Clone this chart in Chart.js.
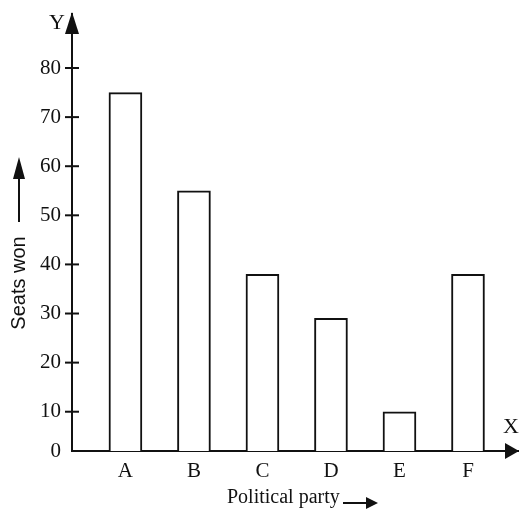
<!DOCTYPE html>
<html>
<head>
<meta charset="utf-8">
<script src="https://cdn.jsdelivr.net/npm/chart.js@4/dist/chart.umd.min.js"></script>
<style>
  html, body { margin: 0; padding: 0; background: #fff; }
  #wrap { width: 519px; height: 516px; }
</style>
</head>
<body>
<div id="wrap"><canvas id="seats"></canvas></div>
<script>
const parties = ['A', 'B', 'C', 'D', 'E', 'F'];
const seatsWon = [75, 55, 38, 29, 10, 38];
const yTicks = [10, 20, 30, 40, 50, 60, 70, 80];

// the printed axis is squeezed below 10, so the origin stands for about 2 seats
const yOrigin = 2;

const serif = '"Liberation Serif", "Times New Roman", serif';

const axisExtras = {
    id: 'axisExtras',
    afterDraw(chart) {
        const ctx = chart.ctx;
        const y = chart.scales.y;
        const area = chart.chartArea;
        ctx.save();
        ctx.strokeStyle = '#111';
        ctx.fillStyle = '#111';
        ctx.lineWidth = 2;

        // tick marks crossing the y axis
        yTicks.forEach(v => {
            const py = y.getPixelForValue(v);
            ctx.beginPath();
            ctx.moveTo(area.left - 7, py);
            ctx.lineTo(area.left + 7, py);
            ctx.stroke();
        });

        // arrow heads
        ctx.beginPath();
        ctx.moveTo(area.left, area.top - 2);
        ctx.lineTo(area.left - 7, area.top + 20);
        ctx.lineTo(area.left + 7, area.top + 20);
        ctx.closePath();
        ctx.fill();

        ctx.beginPath();
        ctx.moveTo(area.right + 1, area.bottom);
        ctx.lineTo(area.right - 13, area.bottom - 8);
        ctx.lineTo(area.right - 13, area.bottom + 8);
        ctx.closePath();
        ctx.fill();

        // axis letters
        ctx.font = '22px ' + serif;
        ctx.textBaseline = 'middle';
        ctx.textAlign = 'center';
        ctx.fillText('Y', area.left - 15, area.top + 9);
        ctx.fillText('X', area.right - 7, area.bottom - 24);

        // x title with arrow
        ctx.font = '20px ' + serif;
        ctx.textAlign = 'left';
        ctx.fillText('Political party', 227, 498);
        ctx.beginPath();
        ctx.moveTo(343, 503);
        ctx.lineTo(368, 503);
        ctx.stroke();
        ctx.beginPath();
        ctx.moveTo(378, 503);
        ctx.lineTo(366, 497);
        ctx.lineTo(366, 509);
        ctx.closePath();
        ctx.fill();

        // y title with arrow
        ctx.save();
        ctx.translate(19, 283);
        ctx.rotate(-Math.PI / 2);
        ctx.font = '20px "Liberation Sans", Arial, sans-serif';
        ctx.textAlign = 'center';
        ctx.fillText('Seats won', 0, 0);
        ctx.restore();
        ctx.beginPath();
        ctx.moveTo(19, 222);
        ctx.lineTo(19, 172);
        ctx.stroke();
        ctx.beginPath();
        ctx.moveTo(19, 157);
        ctx.lineTo(13, 179);
        ctx.lineTo(25, 179);
        ctx.closePath();
        ctx.fill();

        ctx.restore();
    }
};

const points = parties.map((p, i) => ({ x: i + 1, y: seatsWon[i] }));

new Chart(document.getElementById('seats').getContext('2d'), {
    type: 'bar',
    data: {
        datasets: [{
            label: 'Seats won',
            data: points,
            backgroundColor: '#fff',
            borderColor: '#111',
            borderWidth: 2,
            barThickness: 33
        }]
    },
    options: {
        responsive: true,
        maintainAspectRatio: false,
        animation: false,
        layout: { padding: { top: 14, right: 1, left: 0, bottom: 0 } },
        plugins: {
            legend: { display: false },
            tooltip: { enabled: false }
        },
        scales: {
            x: {
                type: 'linear',
                offset: false,
                min: 0.22,
                max: 6.73,
                afterBuildTicks: s => { s.ticks = parties.map((p, i) => ({ value: i + 1 })); },
                afterFit: s => { s.height = 65; s.paddingLeft = 0; s.paddingRight = 0; },
                grid: { display: false, drawTicks: false, offset: false },
                border: { display: true, color: '#111', width: 2 },
                ticks: {
                    padding: 8,
                    color: '#111',
                    font: { family: serif, size: 21 },
                    callback: v => parties[v - 1]
                }
            },
            y: {
                type: 'linear',
                min: yOrigin,
                max: 91,
                afterBuildTicks: s => { s.ticks = [yOrigin].concat(yTicks).map(v => ({ value: v })); },
                afterFit: s => { s.width = 72; s.paddingTop = 0; s.paddingBottom = 0; },
                grid: { display: false, drawTicks: false },
                border: { display: true, color: '#111', width: 2 },
                ticks: {
                    padding: 11,
                    color: '#111',
                    font: { family: serif, size: 21 },
                    callback: v => v === yOrigin ? '0' : v
                }
            }
        }
    },
    plugins: [axisExtras]
});
</script>
</body>
</html>
